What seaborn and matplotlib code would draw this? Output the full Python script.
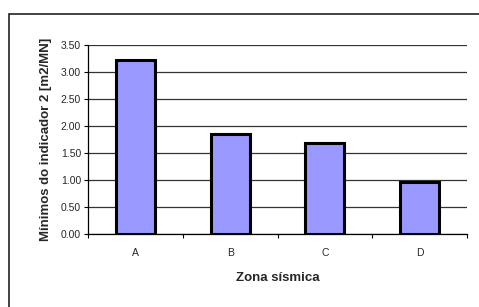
import matplotlib
matplotlib.use("Agg")
import matplotlib.pyplot as plt
import seaborn as sns
import pandas as pd
from matplotlib.patches import Rectangle
from matplotlib.ticker import FixedLocator

# -----------------------------
# Data
# -----------------------------
zones = ["A", "B", "C", "D"]
minimos = [3.22, 1.85, 1.68, 0.96]
y_ticks = [0.0, 0.5, 1.0, 1.5, 2.0, 2.5, 3.0, 3.5]

df = pd.DataFrame({"Zona": zones, "Minimo": minimos})

sns.set_theme(style="white")
plt.rcParams["font.family"] = ["Liberation Sans", "DejaVu Sans"]

fig = plt.figure(figsize=(4.79, 3.07), dpi=100)
ax = fig.add_axes([88 / 479, 1 - 234 / 307, (467 - 88) / 479, (234 - 45) / 307])

# outer chart frame (clipped at right and bottom like the reference)
fig.patches.append(Rectangle((9 / 479, -0.05), 1.2, 1 - 14 / 307 + 0.05,
                             transform=fig.transFigure, fill=False,
                             edgecolor="#222222", linewidth=1.2))

ax.set_axisbelow(True)
ax.yaxis.grid(True, color="#333333", linewidth=0.9)
sns.barplot(data=df, x="Zona", y="Minimo", color="#9999FF",
            edgecolor="black", linewidth=2.2, width=0.41, saturation=1, ax=ax)

ax.set_ylim(0, 3.5)
ax.set_xlim(-0.5, 3.5)
ax.set_yticks(y_ticks)
ax.set_yticklabels([f"{v:.2f}" for v in y_ticks], fontsize=7.5)
ax.tick_params(axis="x", length=0, labelsize=7.5, pad=10)
ax.xaxis.set_minor_locator(FixedLocator([-0.5, 0.5, 1.5, 2.5, 3.5]))
ax.tick_params(axis="x", which="minor", length=3, color="black", width=0.8, bottom=True)
ax.tick_params(axis="y", length=3, color="black", width=0.8, left=True, pad=2)

for side in ["top", "right"]:
    ax.spines[side].set_visible(False)
for side in ["left", "bottom"]:
    ax.spines[side].set_color("black")
    ax.spines[side].set_linewidth(0.9)

ax.set_xlabel("Zona sísmica", fontsize=9.5, fontweight="bold", labelpad=10)
ax.set_ylabel("Mínimos do indicador 2 [m2/MN]", fontsize=9.5, fontweight="bold", labelpad=6)

fig.savefig("out.png", dpi=100)
